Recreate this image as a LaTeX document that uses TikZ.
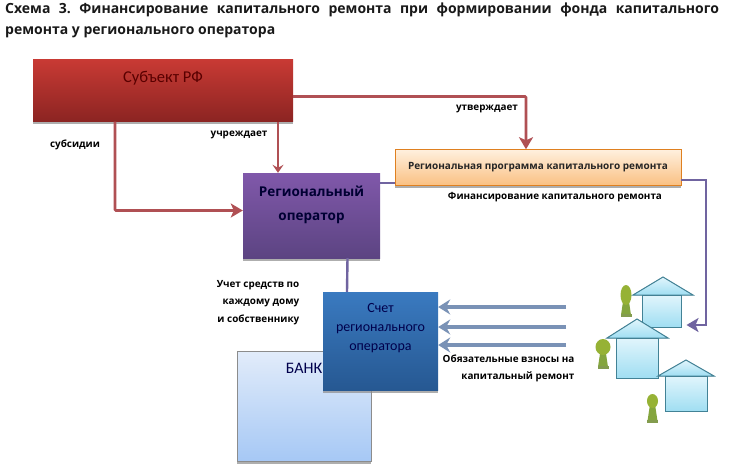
\documentclass[tikz,border=0pt]{standalone}
\usepackage{fontspec}
\setmainfont{Open Sans}
\newfontfamily\boxfont{Carlito}
\usepackage{xcolor}
\usetikzlibrary{arrows.meta, positioning, calc, shadows}
\definecolor{redline}{RGB}{176,80,84}
\definecolor{violetline}{RGB}{112,100,160}
\definecolor{blueline}{RGB}{122,146,182}
\definecolor{houseedge}{RGB}{66,130,150}
\definecolor{pawngreen}{RGB}{132,165,62}
\definecolor{subjtop}{RGB}{200,58,52}
\definecolor{subjbot}{RGB}{140,36,34}
\definecolor{opertop}{RGB}{128,88,170}
\definecolor{operbot}{RGB}{92,68,130}
\definecolor{acctop}{RGB}{58,122,192}
\definecolor{accbot}{RGB}{38,88,146}
\definecolor{banktop}{RGB}{226,236,250}
\definecolor{bankbot}{RGB}{166,200,245}
\definecolor{progtop}{RGB}{255,240,222}
\definecolor{progbot}{RGB}{250,192,130}
\definecolor{housetop}{RGB}{225,245,252}
\definecolor{housebot}{RGB}{160,222,242}
\tikzset{
  blockbox/.style={inner sep=0pt, align=center, drop shadow={shadow xshift=0pt, shadow yshift=-2.5pt, fill=black!45, opacity=0.7}},
  tag/.style={inner sep=0pt, align=center, font=\fontsize{9.9}{17.5}\selectfont\bfseries},
  housebody/.style={draw=houseedge, line width=1pt, inner sep=0pt, top color=housetop, bottom color=housebot},
  roof/.style={draw=houseedge, line width=1pt, top color=housetop, bottom color=housebot},
  redarrow/.style={draw=redline, line width=2.6pt, -{Stealth[inset=3pt, length=12pt, width=14pt]}},
  violetarrow/.style={draw=violetline, line width=2.4pt},
  bluearrow/.style={draw=blueline, line width=4pt, -{Stealth[inset=4pt, length=12pt, width=15pt]}},
  pawn/.pic={
    \fill[pawngreen] (-2,0) -- (-5,20) -- (5,20) -- (2,0) -- cycle;
    \fill[pawngreen!75!gray] (-5.5,19) rectangle (5.5,22);
    \fill[pawngreen!85!yellow] (0,0) ellipse (#1);
  },
}
\begin{document}
\begin{tikzpicture}[x=1pt, y=-1pt]
  \useasboundingbox (0,0) rectangle (740,475);
  \fill[white] (0,0) rectangle (740,475);
  % heading
  \node[anchor=north west, inner sep=0pt, text width=714pt, align=justify, font=\fontsize{14}{21}\selectfont\bfseries\frenchspacing, text=black!90] (heading) at (5,3) {Схема 3. Финансирование капитального ремонта при формировании фонда капитального\linebreak ремонта у регионального оператора};

  % main blocks
  \node[blockbox, minimum width=260pt, minimum height=62pt, top color=subjtop, bottom color=subjbot, text=red!35!black, text depth=27pt, font=\boxfont\fontsize{16.5}{18}\selectfont] (subject) at (163,90.5) {Субъект РФ};
  \node[blockbox, minimum width=137pt, minimum height=85pt, top color=opertop, bottom color=operbot, text=blue!20!black, text depth=24pt, font=\fontsize{13.5}{24}\selectfont\bfseries] (operator) at (311.5,215.5) {Региональный\\оператор};
  \node[blockbox, minimum width=286pt, minimum height=36pt, top color=progtop, bottom color=progbot, text=black!85, font=\fontsize{10}{12}\selectfont\bfseries, draw=orange!50!brown, line width=0.5pt] (program) at (538,167.5) {Региональная программа капитального ремонта};
  \node[blockbox, minimum width=134pt, minimum height=110pt, top color=banktop, bottom color=bankbot, draw=black!45, line width=0.7pt, text=black!70!blue, text depth=75pt, font=\boxfont\fontsize{16}{18}\selectfont] (bank) at (304,406) {БАНК};
  \node[blockbox, minimum width=115pt, minimum height=98pt, top color=acctop, bottom color=accbot, text=blue!30!black, text depth=28pt, font=\boxfont\fontsize{14}{19}\selectfont] (account) at (380.5,341) {Счет\\регионального\\оператора};

  % houses
  \node[housebody, minimum width=39pt, minimum height=32pt] (house1) at (661.5,311) {};
  \filldraw[roof] (633,295) -- (663,277) -- (693,295) -- cycle;
  \node[housebody, minimum width=42pt, minimum height=40pt] (house2) at (637,358) {};
  \filldraw[roof] (607,338) -- (637,319) -- (668,338) -- cycle;
  \node[housebody, minimum width=42pt, minimum height=35pt] (house3) at (686,393.5) {};
  \filldraw[roof] (658,376) -- (686,360) -- (714,376) -- cycle;
  \pic at (626,295) {pawn={5.5pt and 10pt}};
  \pic at (603,347) {pawn={7.5pt and 8pt}};
  \pic at (652.5,401) {pawn={5.5pt and 7pt}};

  % connectors
  \coordinate (turn) at (706,325);
  \coordinate (fee1) at (566,307);
  \coordinate (fee2) at (566,327);
  \coordinate (fee3) at (566,345);
  \draw[redarrow, rounded corners=1pt] ([yshift=-6pt]subject.east) -| ([xshift=-12pt]program.north);
  \draw[redarrow, rounded corners=1pt] ([xshift=-48pt]subject.south) |- ([yshift=5pt]operator.west);
  \draw[draw=redline, line width=1.5pt, -{Stealth[inset=3pt, length=8pt, width=11pt]}] ([xshift=115pt]subject.south) -- ([xshift=-33.5pt]operator.north);
  \draw[violetarrow] ([yshift=32.5pt]operator.east) -- ([yshift=-15.5pt]program.west);
  \draw[violetarrow, -{Stealth[inset=3pt, length=12pt, width=14pt]}] ([yshift=-12.5pt]program.east) -| (turn) -- ([xshift=5pt,yshift=-14pt]house1.east);
  \draw[violetarrow] ([xshift=36pt]operator.south) -- ([xshift=-33.5pt]account.north);
  \draw[bluearrow] (fee1) -- ([yshift=34pt]account.east);
  \draw[bluearrow] (fee2) -- ([yshift=14pt]account.east);
  \draw[bluearrow] (fee3) -- ([yshift=-4pt]account.east);

  % labels
  \node[tag] (subsidy) at (75,145) {субсидии};
  \node[tag] (founds) at (239,135) {учреждает};
  \node[tag] (approves) at (487,109) {утверждает};
  \node[tag] (funding) at (555,197) {Финансирование капитального ремонта};
  \node[tag, anchor=east, align=right] (ledger) at (299.5,302.5) {Учет средств по\\каждому дому\\и собственнику};
  \node[tag, anchor=east, align=right] (dues) at (574.5,368.5) {Обязательные взносы на\\капитальный ремонт};
\end{tikzpicture}
\end{document}
